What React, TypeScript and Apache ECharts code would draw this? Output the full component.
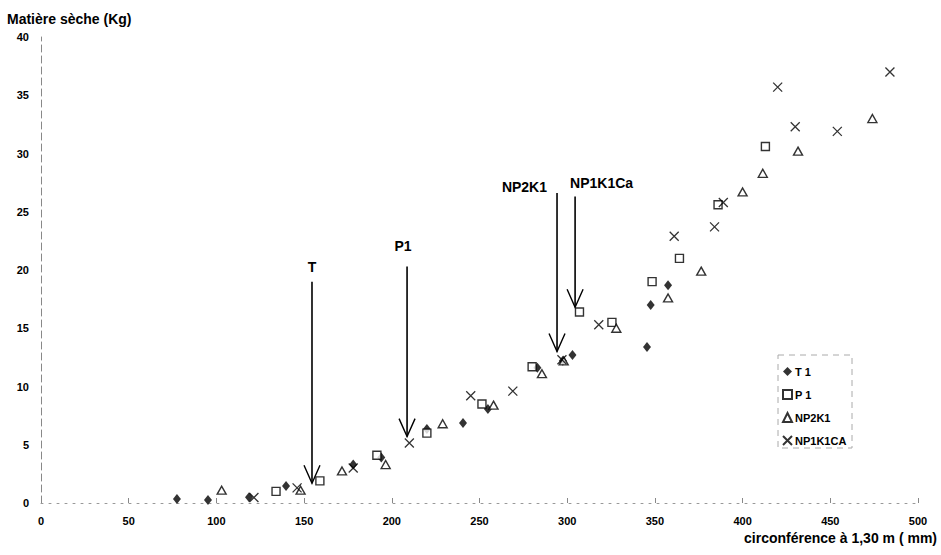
import React, { useEffect, useRef } from "react";
import * as echarts from "echarts";

// ---------- data ----------
const seriesNames = ["T 1", "P 1", "NP2K1", "NP1K1CA"];

const t1Data: number[][] = [
  [77.5, 0.34], [95.2, 0.26], [118.6, 0.5], [139.7, 1.46], [178, 3.3],
  [194, 3.9], [220, 6.35], [240.6, 6.87], [254.8, 8.07], [283, 11.6],
  [297.5, 12.2], [303, 12.7], [345.5, 13.4], [347.6, 17.0], [357.5, 18.7],
];
const p1Data: number[][] = [
  [134, 1.0], [159, 1.9], [191.5, 4.1], [220, 6.0], [251.4, 8.5],
  [280, 11.7], [307, 16.4], [325.5, 15.5], [348.4, 19.0], [364, 21.0],
  [386, 25.6], [413, 30.6],
];
const np2k1Data: number[][] = [
  [103, 1.1], [148, 1.1], [171.6, 2.75], [196.5, 3.3], [229, 6.8],
  [258, 8.4], [285.6, 11.1], [298, 12.2], [328, 15.0], [357.5, 17.6],
  [376.4, 19.9], [400, 26.7], [411.5, 28.3], [431.6, 30.2], [474, 33.0],
];
const np1k1caData: number[][] = [
  [121.4, 0.47], [146, 1.3], [178, 3.0], [210, 5.15], [245, 9.2],
  [269, 9.6], [297, 12.3], [318, 15.3], [361, 22.9], [384, 23.7],
  [389, 25.8], [420, 35.7], [430, 32.3], [454, 31.9], [484, 37.0],
];

// annotation arrows (x, top of shaft, tip, label level) in data units
const arrowLabels = ["T", "P1", "NP2K1", "NP1K1Ca"];
const arrowX = [154.5, 208.7, 294.2, 304.5];
const arrowTop = [19.0, 20.3, 26.6, 26.3];
const arrowTip = [1.7, 5.7, 13.0, 16.8];
const arrowLabelY = [20.3, 22.1, 27.1, 27.5];

const xAxisTitle = "circonférence à 1,30 m ( mm)";
const yAxisTitle = "Matière sèche (Kg)";

const FONT = "'Liberation Sans', Arial, Helvetica, sans-serif";
const X_PATH = "path://M0,0L10,10M10,0L0,10";

export default function App() {
  const ref = useRef<HTMLDivElement>(null);

  useEffect(() => {
    if (!ref.current) return;
    const chart = echarts.init(ref.current, null, { renderer: "svg" });

    const arrowData = arrowX.map((x, i) => [x, arrowTop[i], arrowTip[i], arrowLabelY[i]]);
    const labelAlign = ["center", "center", "right", "left"];
    const labelDx = [0, -4, -10, -5];

    const option: any = {
      animation: false,
      backgroundColor: "#fff",
      textStyle: { fontFamily: FONT },
      title: {
        text: yAxisTitle,
        left: 2,
        top: 7,
        textStyle: { fontFamily: FONT, fontSize: 14, fontWeight: "bold", color: "#000" },
      },
      grid: { left: 41, right: 23, top: 37, bottom: 52, containLabel: false },
      xAxis: {
        type: "value",
        min: 0,
        max: 500,
        interval: 50,
        splitLine: { show: false },
        axisLine: { show: true, lineStyle: { color: "#999", width: 1, type: [2, 6] } },
        axisTick: { show: true, inside: true, length: 5, lineStyle: { color: "#888" } },
        axisLabel: {
          margin: 12,
          fontFamily: FONT,
          fontSize: 11,
          fontWeight: "bold",
          color: "#000",
        },
      },
      yAxis: {
        type: "value",
        min: 0,
        max: 40,
        interval: 5,
        splitLine: { show: false },
        axisLine: { show: true, lineStyle: { color: "#888", width: 1, type: [7, 4] } },
        axisTick: { show: false },
        axisLabel: {
          margin: 12,
          fontFamily: FONT,
          fontSize: 11,
          fontWeight: "bold",
          color: "#000",
        },
      },
      legend: {
        orient: "vertical",
        left: 777,
        top: 361,
        itemGap: 12,
        itemWidth: 9,
        itemHeight: 9,
        textStyle: { fontFamily: FONT, fontSize: 11, fontWeight: "bold", color: "#000", padding: [0, 0, 0, -2] },
        data: [
          { name: seriesNames[0], icon: "diamond" },
          { name: seriesNames[1], icon: "rect" },
          { name: seriesNames[2], icon: "triangle" },
          { name: seriesNames[3], icon: X_PATH },
        ],
      },
      graphic: [
        {
          type: "rect",
          shape: { x: 778, y: 355, width: 74, height: 93 },
          style: { fill: "none", stroke: "#aaa", lineWidth: 1, lineDash: [6, 5] },
          silent: true,
        },
        {
          type: "text",
          right: 4,
          top: 531,
          style: {
            text: xAxisTitle,
            fontFamily: FONT,
            fontSize: 14,
            fontWeight: "bold",
            fill: "#000",
          },
        },
      ],
      series: [
        {
          name: seriesNames[0],
          type: "scatter",
          data: t1Data,
          symbol: "diamond",
          symbolSize: [8, 10],
          itemStyle: { color: "#000", borderColor: "#000", borderWidth: 0 },
        },
        {
          name: seriesNames[1],
          type: "scatter",
          data: p1Data,
          symbol: "rect",
          symbolSize: 8,
          itemStyle: { color: "#fff", borderColor: "#000", borderWidth: 1.4 },
        },
        {
          name: seriesNames[2],
          type: "scatter",
          data: np2k1Data,
          symbol: "triangle",
          symbolSize: [9, 8],
          itemStyle: { color: "#fff", borderColor: "#000", borderWidth: 1.4 },
        },
        {
          name: seriesNames[3],
          type: "scatter",
          data: np1k1caData,
          symbol: X_PATH,
          symbolSize: 9,
          itemStyle: { color: "rgba(0,0,0,0)", borderColor: "#000", borderWidth: 1.3 },
        },
        {
          name: "arrows",
          type: "custom",
          silent: true,
          data: arrowData,
          encode: { x: 0, y: [1, 2] },
          z: 5,
          renderItem: (params: any, api: any) => {
            const i = params.dataIndex;
            const x = api.value(0);
            const top = api.coord([x, api.value(1)]);
            const tip = api.coord([x, api.value(2)]);
            const lab = api.coord([x, api.value(3)]);
            return {
              type: "group",
              children: [
                {
                  type: "line",
                  shape: { x1: top[0], y1: top[1], x2: tip[0], y2: tip[1] },
                  style: { stroke: "#000", lineWidth: 1.6 },
                },
                {
                  type: "polyline",
                  shape: {
                    points: [
                      [tip[0] - 8, tip[1] - 18],
                      [tip[0], tip[1]],
                      [tip[0] + 8, tip[1] - 18],
                    ],
                  },
                  style: { stroke: "#000", lineWidth: 1.4, fill: null },
                },
                {
                  type: "text",
                  x: lab[0] + labelDx[i],
                  y: lab[1],
                  style: {
                    text: arrowLabels[i],
                    fontFamily: FONT,
                    fontSize: 14,
                    fontWeight: "bold",
                    fill: "#000",
                    textAlign: labelAlign[i],
                    textVerticalAlign: "middle",
                  },
                },
              ],
            };
          },
        },
      ],
    };

    chart.setOption(option);
    return () => chart.dispose();
  }, []);

  return <div ref={ref} style={{ width: 941, height: 555, position: "absolute", left: 0, top: 0 }} />;
}
